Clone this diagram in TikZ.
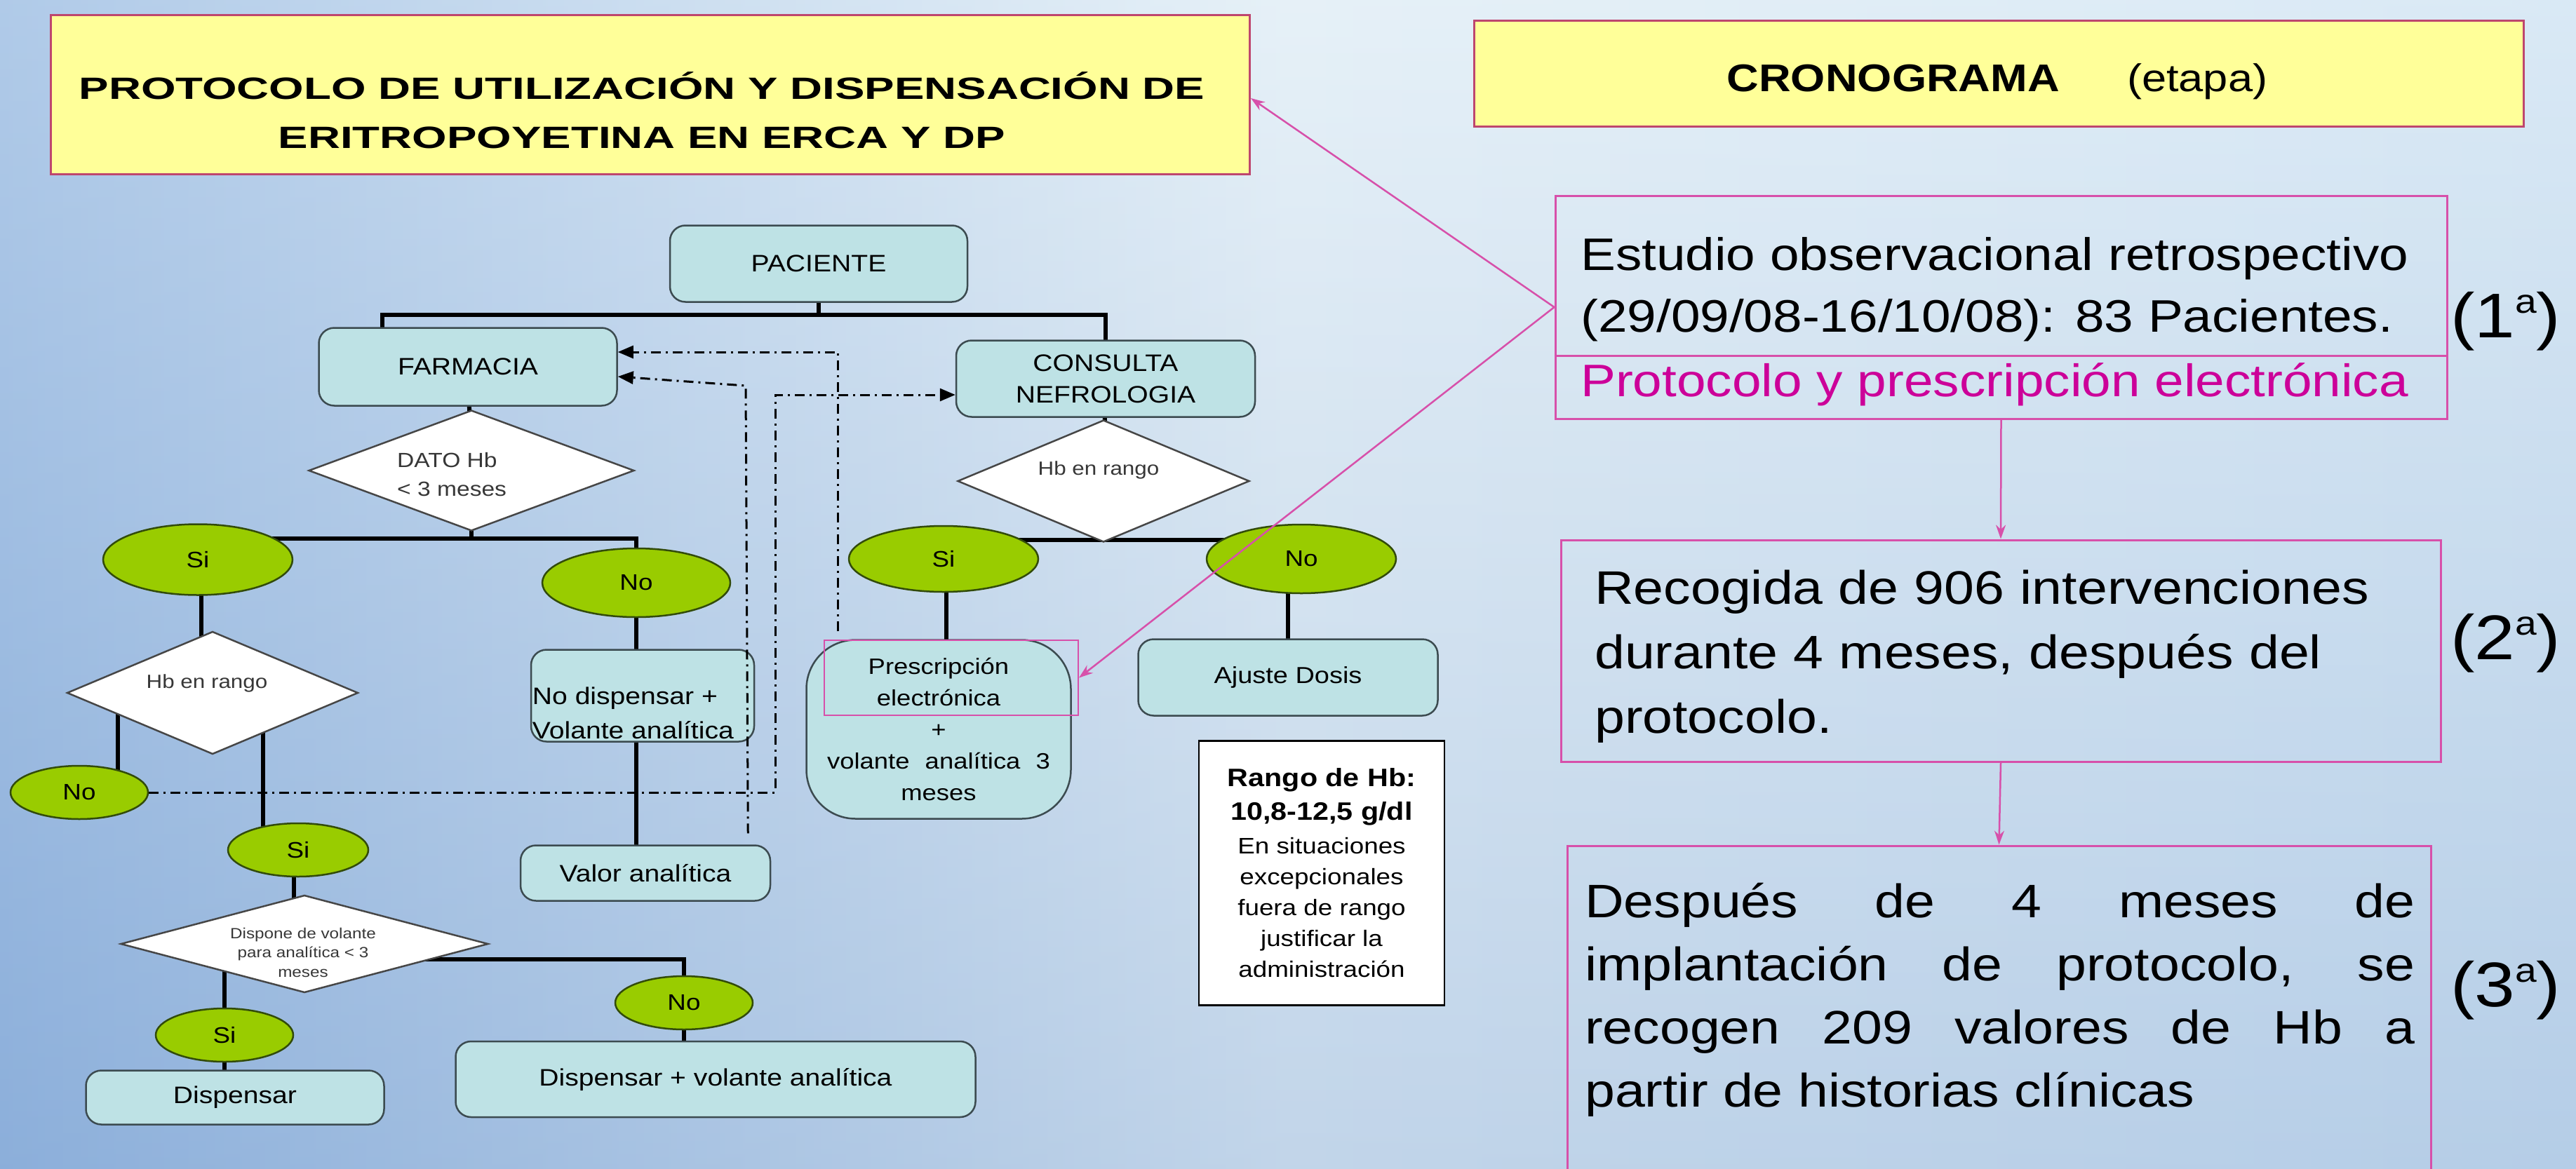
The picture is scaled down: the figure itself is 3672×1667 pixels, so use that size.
\documentclass[tikz,border=0pt]{standalone}
\usepackage{fontspec}
\setmainfont{Liberation Sans}[FakeStretch=1.15]
\newfontfamily\titlesans{Liberation Sans}[FakeStretch=1.45]
\usetikzlibrary{shapes.geometric,arrows.meta,backgrounds}

\definecolor{bgLeft}{RGB}{150,185,225}
\definecolor{bgMid}{RGB}{222,236,245}
\definecolor{bgRight}{RGB}{205,226,242}
\definecolor{bgDeep}{RGB}{110,145,200}
\definecolor{boxFill}{RGB}{190,226,229}
\definecolor{boxLine}{RGB}{60,75,80}
\definecolor{greenFill}{RGB}{153,204,0}
\definecolor{greenLine}{RGB}{50,75,10}
\definecolor{condLine}{RGB}{70,70,70}
\definecolor{condText}{RGB}{55,55,55}
\definecolor{headFill}{RGB}{255,255,153}
\definecolor{headLine}{RGB}{190,70,110}
\definecolor{pinkLine}{RGB}{215,80,170}
\definecolor{pinkText}{RGB}{204,0,153}

\newcommand{\fsz}[2]{\fontsize{#1}{#2}\selectfont}
\newcommand{\ordA}{\raisebox{0.38em}{\fontsize{48}{48}\selectfont a}}

\begin{document}
\begin{tikzpicture}[x=1pt, y=-1pt,
		box_style/.style={draw=boxLine, line width=2.5pt, fill=boxFill, rounded corners=22pt, inner sep=0pt, font=\fsz{34}{40}},
		choice_style/.style={ellipse, draw=greenLine, line width=2.5pt, fill=greenFill, inner sep=0pt, font=\fsz{32}{36}},
		cond_style/.style={diamond, draw=condLine, line width=2.5pt, fill=white, inner sep=0pt},
		cond_text/.style={text=condText, inner sep=0pt, font=\fsz{27.3}{32}},
		head_style/.style={draw=headLine, line width=3pt, fill=headFill, inner sep=0pt},
		stage_style/.style={draw=pinkLine, line width=3pt, inner sep=0pt},
		stage_text/.style={anchor=base west, inner sep=0pt, font=\fsz{65}{90}},
		etapa_style/.style={anchor=base west, inner sep=0pt, font=\fsz{90}{90}},
		edge_style/.style={draw=black, line width=6pt},
		dash_style/.style={draw=black, line width=3pt, dash pattern=on 14pt off 7pt on 3pt off 7pt, -{Triangle[length=22pt,width=18pt]}},
		pink_style/.style={draw=pinkLine, line width=2.5pt, -{Stealth[length=20pt,width=14pt]}}]

		\useasboundingbox (0,0) rectangle (3672,1667);

		% cabeceras
		\node[head_style, minimum width=1709pt, minimum height=226pt] (titulo) at (927,135) {};
		\node[font=\titlesans\bfseries\fsz{43.9}{70}, align=center, inner sep=0pt] (tituloT) at (915,157) {PROTOCOLO DE UTILIZACIÓN Y DISPENSACIÓN DE\\ERITROPOYETINA EN ERCA Y DP};
		\node[head_style, minimum width=1496pt, minimum height=151pt] (crono) at (2849,105) {};
		\node[font=\fsz{55}{66}, inner sep=0pt] (cronoT) at (2847,116) {{\bfseries CRONOGRAMA}\hspace{96pt}(etapa)};

		% flujo farmacia
		\node[box_style, minimum width=424pt, minimum height=109pt] (pac) at (1167,376) {PACIENTE};
		\node[box_style, minimum width=425pt, minimum height=111pt] (farm) at (667,523) {FARMACIA};
		\node[cond_style, minimum width=464pt, minimum height=172pt] (dato) at (672,671) {};
		\node[cond_text, anchor=west, align=left, font=\fsz{29.2}{41}] (datoT) at (566,677) {DATO Hb\\< 3 meses};
		\node[choice_style, minimum width=270pt, minimum height=101pt] (siA) at (282,798) {Si};
		\node[choice_style, minimum width=268pt, minimum height=98pt] (noA) at (907,831) {No};
		\node[cond_style, minimum width=415pt, minimum height=175pt] (hbL) at (303,988) {};
		\node[cond_text] (hbLT) at (295,974) {Hb en rango};
		\node[choice_style, minimum width=196pt, minimum height=76pt] (noB) at (113,1130) {No};
		\node[choice_style, minimum width=200pt, minimum height=76pt] (siB) at (425,1212) {Si};
		\node[box_style, minimum width=318pt, minimum height=131pt] (nodisp) at (916,992) {};
		\node[anchor=south west, align=left, inner sep=0pt, font=\fsz{34}{49}] (nodispT) at ([xshift=3pt,yshift=5pt]nodisp.south west) {No dispensar +\\Volante analítica};
		\node[box_style, minimum width=356pt, minimum height=79pt] (valor) at (920,1245) {Valor analítica};
		\node[cond_style, minimum width=524pt, minimum height=139pt] (disp) at (434,1346) {};
		\node[cond_text, align=center, font=\fsz{21.1}{27.5}] (dispT) at (432,1358) {Dispone de volante\\para analítica < 3\\meses};
		\node[choice_style, minimum width=196pt, minimum height=76pt] (siC) at (320,1476) {Si};
		\node[choice_style, minimum width=196pt, minimum height=76pt] (noC) at (975,1430) {No};
		\node[box_style, minimum width=425pt, minimum height=77pt] (dispensar) at (335,1565) {Dispensar};
		\node[box_style, minimum width=741pt, minimum height=108pt] (dispvol) at (1020,1539) {Dispensar + volante analítica};

		% flujo consulta
		\node[box_style, minimum width=426pt, minimum height=109pt, align=center, font=\fsz{34}{45}] (cons) at (1576,540) {CONSULTA\\NEFROLOGIA};
		\node[cond_style, minimum width=416pt, minimum height=174pt] (hbR) at (1573,686) {};
		\node[cond_text] (hbRT) at (1566,670) {Hb en rango};
		\node[choice_style, minimum width=270pt, minimum height=94pt] (siR) at (1345,797) {Si};
		\node[choice_style, minimum width=270pt, minimum height=98pt] (noR) at (1855,797) {No};
		\node[box_style, rounded corners=70pt, minimum width=377pt, minimum height=255pt, align=center, font=\fsz{31.7}{45}] (pres) at (1338,1040) {Prescripción\\electrónica\\+\\volante\hspace{12pt} analítica\hspace{12pt} 3\\meses};
		\node[draw=pinkLine, line width=2pt, minimum width=362pt, minimum height=107pt, inner sep=0pt] (presHL) at (1356,966.5) {};
		\node[box_style, minimum width=427pt, minimum height=109pt, font=\fsz{33}{40}] (ajuste) at (1836,966) {Ajuste Dosis};
		\node[draw=black, line width=2.5pt, fill=white, minimum width=350pt, minimum height=377pt, align=center, inner sep=0pt, font=\fsz{32}{44}] (rango) at (1884,1245) {{\bfseries\fsz{35.9}{49}Rango de Hb:}\\[4pt]{\bfseries\fsz{35.9}{49}10,8-12,5 g/dl}\\[4pt]En situaciones\\excepcionales\\fuera de rango\\justificar la\\administración};

		% cronograma
		\node[stage_style, minimum width=1271pt, minimum height=318pt] (estudio) at (2852.5,438) {};
		\draw[draw=pinkLine, line width=3pt] ([yshift=-69pt]estudio.west) -- ([yshift=-69pt]estudio.east);
		\node[stage_text] (est1) at (2253,385) {Estudio observacional retrospectivo};
		\node[stage_text] (est2) at (2253,473) {(29/09/08-16/10/08): 83 Pacientes.};
		\node[stage_text, text=pinkText] (est3) at (2253,565) {Protocolo y prescripción electrónica};
		\node[etapa_style] (et1) at (3493,481) {(1\ordA)};

		\node[stage_style, minimum width=1254pt, minimum height=316pt] (recogida) at (2852,928) {};
		\node[stage_text, font=\fsz{67}{92}, text width=1180pt, align=left] (recT) at (2273,861) {Recogida de 906 intervenciones\\durante 4 meses, después del\\protocolo.};
		\node[etapa_style] (et2) at (3493,940) {(2\ordA)};

		\node[stage_style, minimum width=1231pt, minimum height=520pt] (despues) at (2849.5,1466) {};
		\node[stage_text, font=\fsz{67}{90}, text width=1183pt, align=justify] (desT) at (2259,1308) {Después de 4 meses de\linebreak implantación de protocolo, se\linebreak recogen 209 valores de Hb a\linebreak partir de historias clínicas};
		\node[etapa_style] (et3) at (3493,1435) {(3\ordA)};

		% enlaces discontinuos
		\coordinate (ddA) at (1105,1130);
		\coordinate (ddB) at (1063,550);
		\draw[dash_style] (noB.east) -- (ddA) |- ([yshift=-23pt]cons.west);
		\draw[dash_style] ([xshift=-33pt,yshift=16pt]valor.north east) -- (ddB) -- ([yshift=-14pt]farm.east);
		\draw[dash_style] ([xshift=46pt,yshift=11pt]pres.north west) |- ([yshift=21pt]farm.east);

		% enlaces rosas
		\draw[pink_style] (estudio.west) -- ([yshift=-5pt]titulo.east);
		\draw[pink_style] (estudio.west) -- (presHL.east);
		\draw[pink_style] (estudio.south) -- (recogida.north);
		\draw[pink_style] (recogida.south) -- (despues.north);

		\begin{scope}[on background layer]
			\shade[left color=bgLeft, right color=bgRight, middle color=bgMid] (0,0) rectangle (3672,1667);
			\shade[top color=white, bottom color=bgDeep, opacity=0.25] (0,0) rectangle (3672,1667);
		\end{scope}
		\begin{scope}[on background layer]
			\draw[edge_style] (pac.center) -- ++(0,73) coordinate (pacBar);
			\draw[edge_style] ([xshift=-122pt]farm.center) |- (pacBar) -| (cons.center);
			\draw[edge_style] (farm.center) -- (dato.center);
			\draw[edge_style] (dato.center) -- ++(0,97) coordinate (datoBar);
			\draw[edge_style] (siA.center |- datoBar) -- (noA.center |- datoBar) -- (noA.center);
			\draw[edge_style] ([xshift=5pt]siA.center) -- ([xshift=5pt]siA.center |- hbL.center);
			\draw[edge_style] ([xshift=-135pt]hbL.center) -- ([xshift=-135pt]hbL.center |- noB.center);
			\draw[edge_style] ([xshift=72pt]hbL.center) -- ([xshift=72pt]hbL.center |- siB.center);
			\draw[edge_style] ([xshift=-6pt]siB.center) -- ([xshift=-6pt]siB.center |- disp.center);
			\draw[edge_style] (siC.center |- disp.center) -- (siC.center);
			\draw[edge_style] ([yshift=-22pt]disp.center) -| (noC.center);
			\draw[edge_style] (siC.center) -- (siC.center |- dispensar.center);
			\draw[edge_style] (noC.center) -- (noC.center |- dispvol.center);
			\draw[edge_style] (noA.center) -- (noA.center |- valor.center);
			\draw[edge_style] (cons.center) -- (hbR.center);
			\draw[edge_style] (siR.center) |- ([yshift=4pt]hbR.south) -| (noR.center);
			\draw[edge_style] ([xshift=4pt]siR.center) -- ([xshift=4pt]siR.center |- pres.center);
			\draw[edge_style] (ajuste.center |- noR.center) -- (ajuste.center);
		\end{scope}
\end{tikzpicture}
\end{document}
